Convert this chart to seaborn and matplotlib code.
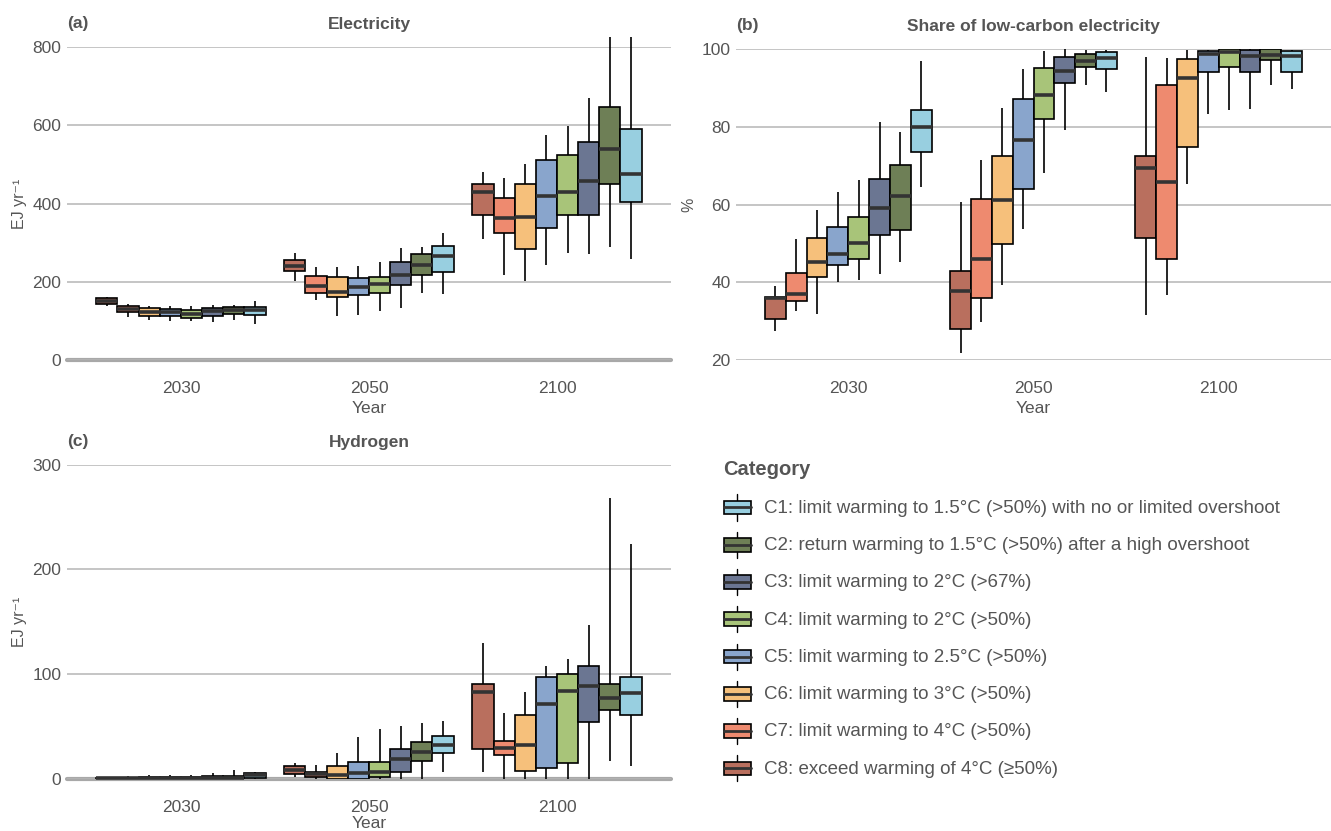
import numpy as np
import pandas as pd
import seaborn as sns
import matplotlib.pyplot as plt
import matplotlib.patches as mpatches
from matplotlib.lines import Line2D
from matplotlib.legend_handler import HandlerBase

# categories, drawn left to right C8 ... C1 inside each year
cats = ['C8', 'C7', 'C6', 'C5', 'C4', 'C3', 'C2', 'C1']
years = ['2030', '2050', '2100']
colors = ['#b96f5e', '#ee8a6f', '#f6c07b', '#89a5cc', '#a8c479', '#6b7692', '#6e7f56', '#98cfe0']

cat_labels = {
    'C1': 'C1: limit warming to 1.5°C (>50%) with no or limited overshoot',
    'C2': 'C2: return warming to 1.5°C (>50%) after a high overshoot',
    'C3': 'C3: limit warming to 2°C (>67%)',
    'C4': 'C4: limit warming to 2°C (>50%)',
    'C5': 'C5: limit warming to 2.5°C (>50%)',
    'C6': 'C6: limit warming to 3°C (>50%)',
    'C7': 'C7: limit warming to 4°C (>50%)',
    'C8': 'C8: exceed warming of 4°C (≥50%)',
}

# box stats per category (C8..C1): min, q1, median, q3, max
elec_2030 = [(138, 144, 151, 158, 160), (109, 123, 130, 139, 144), (101, 113, 123, 133, 139),
             (99, 113, 123, 130, 139), (100, 108, 118, 128, 139), (96, 112, 124, 132, 141),
             (101, 118, 127, 135, 141), (93, 116, 129, 135, 151)]
elec_2050 = [(201, 227, 239, 256, 274), (153, 171, 190, 215, 237), (112, 162, 174, 212, 237),
             (115, 167, 187, 210, 239), (124, 170, 194, 213, 250), (133, 191, 218, 251, 286),
             (171, 217, 243, 272, 288), (169, 225, 267, 292, 325)]
elec_2100 = [(310, 370, 429, 450, 480), (216, 325, 363, 414, 464), (201, 284, 366, 450, 502),
             (244, 337, 419, 512, 574), (274, 371, 429, 525, 597), (271, 371, 457, 556, 669),
             (290, 450, 539, 647, 826), (258, 405, 475, 591, 826)]

share_2030 = [(27.4, 30.5, 36.0, 36.3, 39.1), (32.7, 35.3, 37.0, 42.4, 51.1), (31.9, 41.4, 45.2, 51.5, 58.5),
              (40.0, 44.5, 47.3, 54.3, 63.2), (40.6, 46.0, 50.1, 56.7, 66.3), (42.2, 52.1, 59.1, 66.6, 81.1),
              (45.3, 53.5, 62.1, 70.2, 78.6), (64.6, 73.4, 80.0, 84.2, 96.9)]
share_2050 = [(21.8, 28.1, 37.8, 42.8, 60.7), (29.9, 35.9, 46.0, 61.5, 71.5), (39.4, 49.8, 61.2, 72.5, 84.8),
              (53.7, 64.1, 76.6, 87.2, 94.8), (68.2, 82.1, 88.3, 95.2, 99.5), (79.2, 91.3, 94.3, 98.0, 100),
              (90.7, 95.5, 96.9, 98.8, 99.7), (89.0, 94.9, 97.8, 99.3, 99.7)]
share_2100 = [(31.7, 51.3, 69.3, 72.4, 97.9), (36.8, 46.0, 65.7, 90.7, 97.6), (65.4, 74.9, 92.6, 97.4, 99.7),
              (83.2, 94.1, 98.7, 99.6, 99.8), (84.2, 95.5, 99.3, 99.9, 100), (84.7, 94.0, 98.2, 99.7, 99.9),
              (90.7, 97.3, 98.5, 99.9, 100), (89.7, 94.2, 98.2, 99.6, 99.8)]

h2_2030 = [(0, 0.3, 0.8, 1.3, 1.6), (0, 0.3, 0.8, 1.3, 2.9), (0, 0.3, 0.9, 1.5, 4.0),
           (0, 0.3, 0.9, 1.5, 4.0), (0, 0.3, 0.9, 1.5, 4.0), (0, 0.5, 1.2, 3.0, 5.4),
           (0, 0.5, 1.2, 3.0, 8.6), (0, 1.3, 3.5, 5.7, 6.4)]
h2_2050 = [(2.2, 4.8, 8.6, 12.4, 15.0), (0, 2.2, 4.5, 7.0, 13.0), (0, 0, 4.1, 12.4, 24.5),
           (0, 0, 6.0, 15.9, 39.7), (0, 2.2, 7.0, 15.9, 47.7), (0, 7.0, 19.0, 28.9, 50.5),
           (0, 16.8, 25.8, 35.0, 53.0), (6.4, 24.5, 32.1, 41.3, 55.0)]
h2_2100 = [(6.4, 28.3, 82.7, 90.7, 129.5), (0, 22.6, 29.3, 36.6, 62.7), (0, 7.3, 32.4, 61.4, 82.7),
           (0, 10.2, 71.6, 97.7, 107.8), (0, 15.6, 84.0, 100.5, 114.8), (0, 54.1, 88.4, 108.2, 147.0),
           (17.2, 65.8, 77.3, 91.0, 268.5), (12.4, 61.4, 82.4, 97.7, 224.3)]


def to_long(per_year):
    # five points per box reproduce min / quartiles / median / max exactly
    rows = []
    for year, stats in zip(years, per_year):
        for cat, five in zip(cats, stats):
            for v in five:
                rows.append((year, cat, v))
    return pd.DataFrame(rows, columns=['year', 'cat', 'value'])


df_elec = to_long([elec_2030, elec_2050, elec_2100])
df_share = to_long([share_2030, share_2050, share_2100])
df_h2 = to_long([h2_2030, h2_2050, h2_2100])

sns.set_style('white')
plt.rcParams['font.family'] = ['Liberation Sans', 'DejaVu Sans']
txt = '#555555'

fig = plt.figure(figsize=(13.31, 8.31), dpi=100)
ax_a = fig.add_axes([0.0503, 0.5668, 0.4538, 0.3766])
ax_b = fig.add_axes([0.5530, 0.5668, 0.4470, 0.3742])
ax_c = fig.add_axes([0.0503, 0.0626, 0.4538, 0.3782])

panels = [
    (ax_a, df_elec, '(a)', 'Electricity', 'EJ yr⁻¹', (0, 800), [0, 200, 400, 600, 800], 4),
    (ax_b, df_share, '(b)', 'Share of low-carbon electricity', '%', (20, 100), [20, 40, 60, 80, 100], 4),
    (ax_c, df_h2, '(c)', 'Hydrogen', 'EJ yr⁻¹', (0, 300), [0, 100, 200, 300], 0.5),
]

for ax, d, tag, title, ylab, ylim, yticks, xpad in panels:
    sns.boxplot(data=d, x='year', y='value', hue='cat', order=years, hue_order=cats,
                palette=colors, whis=(0, 100), width=0.9, gap=0, saturation=1,
                linecolor='black', linewidth=1.2, showcaps=False, fliersize=0,
                medianprops=dict(color='#333333', linewidth=2.6),
                legend=False, ax=ax)
    ax.set_ylim(*ylim)
    ax.set_yticks(yticks)
    ax.set_xlim(-0.606, 2.606)
    ax.yaxis.grid(True, color='#b5b5b5', linewidth=1.1)
    ax.set_axisbelow(True)
    if ylim[0] == 0:
        ax.axhline(0, color='#a8a8a8', linewidth=3, zorder=0.5)
    for s in ax.spines.values():
        s.set_visible(False)
    ax.tick_params(axis='both', length=0, labelcolor=txt, labelsize=12.5)
    ax.tick_params(axis='x', pad=15)
    ax.tick_params(axis='y', pad=4)
    ax.set_xlabel('Year', color=txt, fontsize=12.5, labelpad=xpad)
    ax.set_ylabel(ylab, color=txt, fontsize=11.5)
    ax.yaxis.set_label_coords(-0.066, 0.5)
    ax.set_title(title, color=txt, fontsize=12.5, fontweight='bold', pad=13)
    ax.text(0.0, 1.05, tag, transform=ax.transAxes, color=txt, fontsize=12.5,
            fontweight='bold', ha='left', va='bottom')
    for line in ax.lines:
        line.set_clip_on(False)


class BoxHandler(HandlerBase):
    def create_artists(self, legend, orig_handle, xdescent, ydescent, width, height, fontsize, trans):
        cx = width / 2 - xdescent
        y0 = -ydescent
        bh = height * 0.85
        whisker = Line2D([cx, cx], [y0 - bh * 0.45, y0 + bh * 1.45], color='black', lw=1, transform=trans)
        box = mpatches.Rectangle((-xdescent, y0), width, bh, facecolor=orig_handle.get_facecolor(),
                                 edgecolor='black', lw=1.2, transform=trans)
        med = Line2D([-xdescent, width - xdescent], [y0 + bh / 2, y0 + bh / 2], color='#333333',
                     lw=2, transform=trans)
        return [whisker, box, med]


legend_order = cats[::-1]
handles = [mpatches.Patch(facecolor=colors[cats.index(c)]) for c in legend_order]
labels = [cat_labels[c] for c in legend_order]
leg = fig.legend(handles, labels, loc='upper left', bbox_to_anchor=(0.538, 0.455),
                 frameon=False, title='Category', alignment='left',
                 handler_map={mpatches.Patch: BoxHandler()},
                 prop={'size': 13.5}, labelcolor=txt, handlelength=1.45, handleheight=0.95,
                 handletextpad=0.72, labelspacing=1.0, borderaxespad=0)
leg.get_title().set_fontsize(14.5)
leg.get_title().set_fontweight('bold')
leg.get_title().set_color(txt)

fig.savefig('out.png', dpi=100)
